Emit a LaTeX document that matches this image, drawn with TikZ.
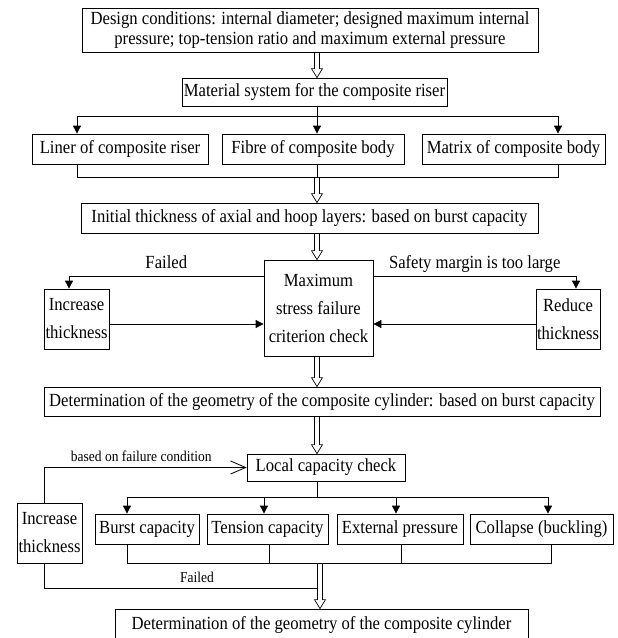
\documentclass[tikz,border=0pt]{standalone}
\usepackage{fontspec}
\setmainfont{Liberation Serif}[FakeStretch=0.9]
\usetikzlibrary{positioning,arrows.meta,calc}

\begin{document}
\begin{tikzpicture}[on grid,auto,
    box/.style={draw,rectangle,line width=0.8pt,inner sep=0pt,align=center,
      font=\fontsize{18.5}{20}\selectfont},
    tall/.style={font=\fontsize{18.5}{28}\selectfont},
    line/.style={line width=0.8pt},
    arr/.style={line,-{Triangle[length=8pt,width=8pt]}},
    hollow/.style={line width=0.7pt,to path={
      let \p1=(\tikztostart), \p2=(\tikztotarget) in
      (\x1-2.5pt,\y1) -- (\x1-2.5pt,\y2+9pt) -- (\x1-5.5pt,\y2+9pt) -- (\x1,\y2)
      -- (\x1+5.5pt,\y2+9pt) -- (\x1+2.5pt,\y2+9pt) -- (\x1+2.5pt,\y1)}},
    lbl/.style={inner sep=0pt,anchor=base,font=\fontsize{18.5}{20}\selectfont},
    small/.style={inner sep=0pt,anchor=base,font=\fontsize{15}{16}\selectfont}]

    \useasboundingbox (0,0) rectangle (618pt,-638pt);
    \coordinate (spine) at (317pt,0);

    \node[box,minimum width=456pt,minimum height=44pt] (design) at (310pt,-30pt)
      {Design conditions: internal diameter; designed maximum internal\\pressure; top-tension ratio and maximum external pressure};
    \node[box,minimum width=265pt,minimum height=28pt] (material) [below right=62pt and 4.5pt of design] {Material system for the composite riser};
    \node[box,minimum width=182pt,minimum height=30pt] (fibre) [below left=57pt and 1.5pt of material] {Fibre of composite body};
    \node[box,minimum width=176pt,minimum height=30pt] (liner) [left=193pt of fibre] {Liner of composite riser};
    \node[box,minimum width=183pt,minimum height=30pt] (matrix) [right=200.5pt of fibre] {Matrix of composite body};
    \node[box,minimum width=457pt,minimum height=30pt] (initial) [below left=69pt and 3.5pt of fibre] {Initial thickness of axial and hoop layers: based on burst capacity};
    \node[box,tall,minimum width=109pt,minimum height=96pt] (check) [below right=90pt and 9pt of initial] {Maximum\\stress failure\\criterion check};
    \node[box,tall,minimum width=65pt,minimum height=60pt] (incA) [below left=11pt and 242pt of check] {Increase\\thickness};
    \node[box,tall,minimum width=64pt,minimum height=60pt] (reduce) [below right=11pt and 249.5pt of check] {Reduce\\thickness};
    \node[box,minimum width=556pt,minimum height=29pt] (geometry) [below right=93.5pt and 3.5pt of check] {Determination of the geometry of the composite cylinder: based on burst capacity};
    \node[box,minimum width=158pt,minimum height=27pt] (local) [below right=66pt and 4pt of geometry] {Local capacity check};
    \node[box,minimum width=104pt,minimum height=30pt] (burst) [below left=61.5pt and 179pt of local] {Burst capacity};
    \node[box,minimum width=121pt,minimum height=30pt] (tension) [right=120.5pt of burst] {Tension capacity};
    \node[box,minimum width=126pt,minimum height=30pt] (external) [right=132.5pt of tension] {External pressure};
    \node[box,minimum width=143pt,minimum height=30pt] (collapse) [right=141.5pt of external] {Collapse (buckling)};
    \node[box,tall,minimum width=65pt,minimum height=60pt] (incB) [below left=4pt and 97.5pt of burst] {Increase\\thickness};
    \node[box,minimum width=413pt,minimum height=32pt] (final) [below right=96pt and 174.5pt of burst] {Determination of the geometry of the composite cylinder};

    % material split
    \draw[hollow] (spine |- design.south) to (spine |- material.north);
    \draw[line] (spine |- material.south) -- ++(0,-10pt) coordinate (splitA);
    \draw[arr] (splitA) -| ([xshift=-43pt]liner.north);
    \draw[arr] (splitA) -| ([xshift=44.5pt]matrix.north);
    \draw[arr] (splitA) -- (spine |- fibre.north);
    \draw[line] ([xshift=-43pt]liner.south) -- ++(0,-13pt) coordinate (joinA) -| ([xshift=44.5pt]matrix.south);
    \draw[line] (spine |- fibre.south) -- (spine |- joinA);
    \draw[hollow] (spine |- joinA) to (spine |- initial.north);
    \draw[hollow] (spine |- initial.south) to (spine |- check.north);

    % stress check loop
    \draw[arr] ([yshift=32pt]check.west) -| node[lbl,pos=0.25,yshift=8pt] {Failed} ([xshift=-7.5pt]incA.north);
    \draw[arr] ([yshift=32pt]check.east) -| node[lbl,pos=0.25,yshift=8pt] {Safety margin is too large} ([xshift=8pt]reduce.north);
    \draw[arr] ([yshift=-5pt]incA.east) -- ([yshift=-5pt]incA.east -| check.west);
    \draw[arr] ([yshift=-5pt]reduce.west) -- ([yshift=-5pt]reduce.west -| check.east);
    \draw[hollow] (spine |- check.south) to (spine |- geometry.north);
    \draw[hollow] (spine |- geometry.south) to (spine |- local.north);

    % local capacity split
    \draw[line] (spine |- local.south) -- ++(0,-16pt) coordinate (splitB);
    \draw[arr] (splitB) -| ([xshift=-20pt]burst.north);
    \draw[arr] (splitB) -| ([xshift=-3.5pt]tension.north);
    \draw[arr] (splitB) -| ([xshift=-4pt]external.north);
    \draw[arr] (splitB) -| ([xshift=6.5pt]collapse.north);
    \draw[line] ([xshift=-20pt]burst.south) -- ++(0,-19pt) coordinate (joinB) -| ([xshift=9.5pt]collapse.south);
    \draw[line] ([xshift=1.5pt]tension.south) -- ([xshift=1.5pt]tension.south |- joinB);
    \draw[line] ([xshift=1pt]external.south) -- ([xshift=1pt]external.south |- joinB);
    \draw[hollow] ([xshift=-1.5pt]final.north |- joinB) to ([xshift=-1.5pt]final.north);

    % failed loop
    \draw[line,-{Straight Barb[length=15pt,width=13pt]}] ([xshift=-5.5pt]incB.north) |- node[small,pos=0.74,yshift=6pt] {based on failure condition} (local.west);
    \draw[line] ([xshift=-5.5pt]incB.south) |- node[small,pos=0.78,yshift=6pt] {Failed} ([xshift=-4.5pt,yshift=20pt]final.north);
\end{tikzpicture}
\end{document}
